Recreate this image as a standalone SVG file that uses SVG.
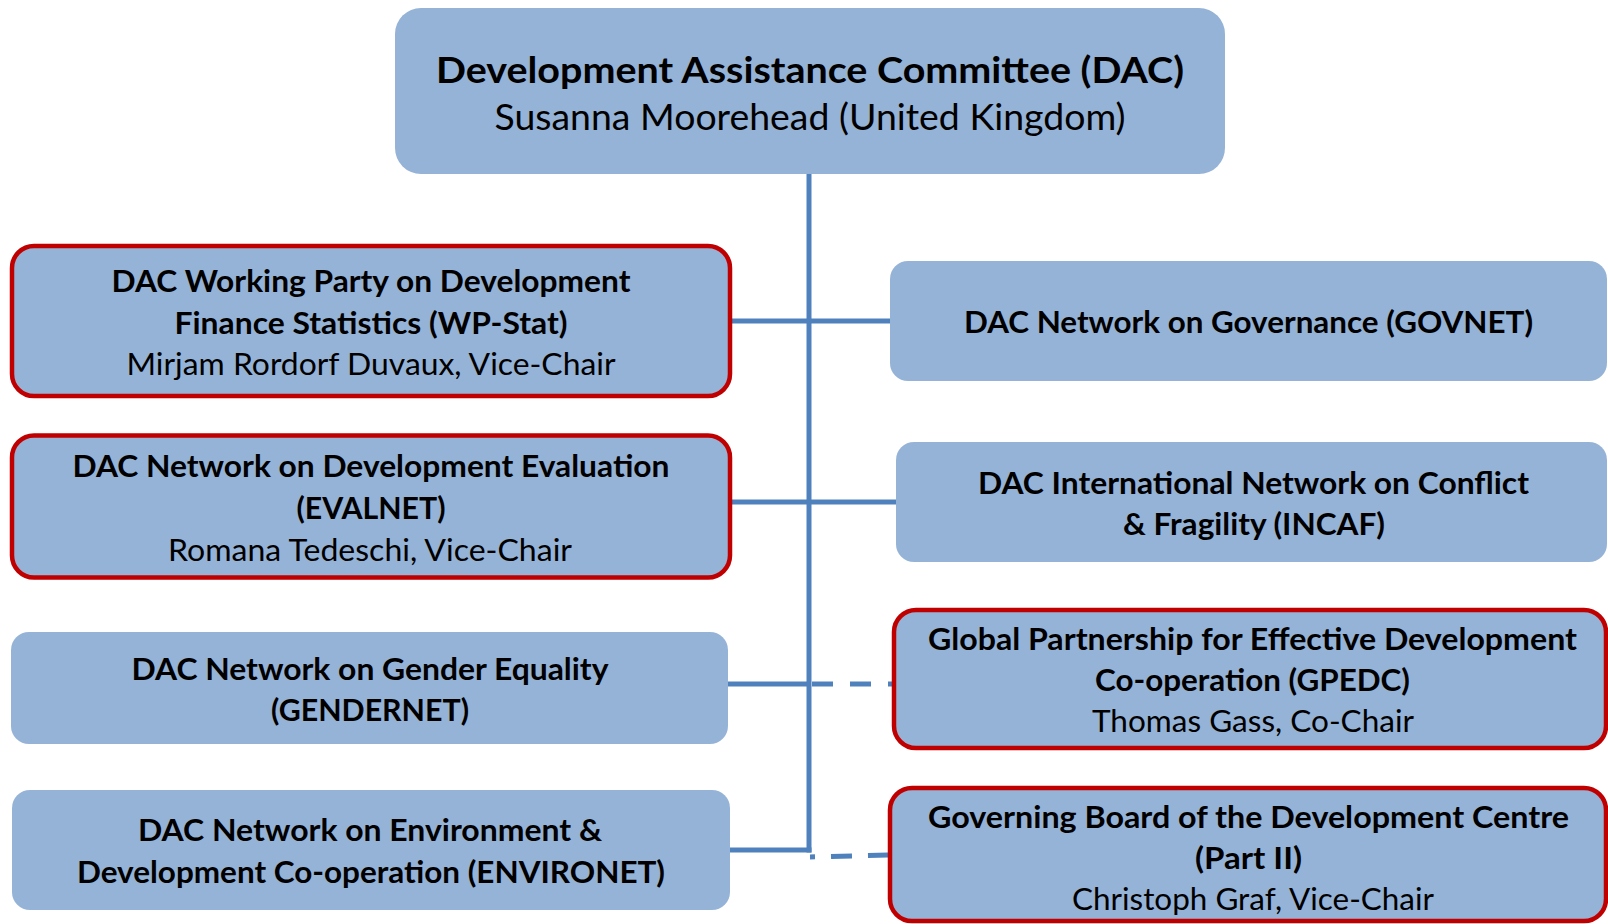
<svg xmlns="http://www.w3.org/2000/svg" width="1608" height="924" viewBox="0 0 1608 924">
  <style>
    .box { fill: #95B3D7; }
    .red { stroke: #C00000; stroke-width: 4.5; }
    .t { font-family: Lato, "Open Sans", "Liberation Sans", sans-serif; fill: #000; text-anchor: middle; }
    .b { font-weight: bold; font-size: 30px; }
    .r { font-weight: normal; font-size: 30px; }
    .tb { font-weight: bold; font-size: 36px; }
    .tr { font-weight: normal; font-size: 36px; }
    .ln { stroke: #4F81BD; stroke-width: 5; fill: none; }
    .dash { stroke-dasharray: 21 17; }
  </style>
  <rect width="1608" height="924" fill="#ffffff"/>

  <g id="connectors">
    <line class="ln" x1="809" y1="174" x2="809" y2="852.5"/>
    <line class="ln" x1="730" y1="321" x2="891" y2="321"/>
    <line class="ln" x1="730" y1="502" x2="897" y2="502"/>
    <line class="ln" x1="727" y1="684" x2="809" y2="684"/>
    <line class="ln dash" x1="812" y1="684" x2="893" y2="684"/>
    <line class="ln" x1="728" y1="850" x2="811.5" y2="850"/>
    <line class="ln" style="stroke-dasharray:21 16;stroke-dashoffset:16" x1="810" y1="857" x2="888" y2="855"/>
  </g>

  <g id="dac">
    <rect class="box" x="395" y="8" width="830" height="166" rx="26"/>
    <text class="t tb" x="810" y="83" textLength="748" lengthAdjust="spacingAndGlyphs">Development Assistance Committee (DAC)</text>
    <text class="t tr" x="810" y="130" textLength="631" lengthAdjust="spacingAndGlyphs">Susanna Moorehead (United Kingdom)</text>
  </g>

  <g id="wpstat">
    <rect class="box red" x="12" y="246" width="718" height="150" rx="22"/>
    <text class="t b" x="371" y="292" textLength="519" lengthAdjust="spacingAndGlyphs">DAC Working Party on Development</text>
    <text class="t b" x="371" y="334" textLength="393" lengthAdjust="spacingAndGlyphs">Finance Statistics (WP-Stat)</text>
    <text class="t r" x="371" y="375" textLength="489" lengthAdjust="spacingAndGlyphs">Mirjam Rordorf Duvaux, Vice-Chair</text>
  </g>

  <g id="evalnet">
    <rect class="box red" x="12" y="435.5" width="718" height="142" rx="22"/>
    <text class="t b" x="371" y="477" textLength="597" lengthAdjust="spacingAndGlyphs">DAC Network on Development Evaluation</text>
    <text class="t b" x="371" y="519" textLength="149" lengthAdjust="spacingAndGlyphs">(EVALNET)</text>
    <text class="t r" x="370" y="561" textLength="404" lengthAdjust="spacingAndGlyphs">Romana Tedeschi, Vice-Chair</text>
  </g>

  <g id="gendernet">
    <rect class="box" x="11" y="632" width="717" height="112" rx="18"/>
    <text class="t b" x="370" y="680" textLength="477" lengthAdjust="spacingAndGlyphs">DAC Network on Gender Equality</text>
    <text class="t b" x="370" y="721" textLength="198" lengthAdjust="spacingAndGlyphs">(GENDERNET)</text>
  </g>

  <g id="environet">
    <rect class="box" x="12" y="790" width="718" height="120" rx="18"/>
    <text class="t b" x="370" y="841" textLength="464" lengthAdjust="spacingAndGlyphs">DAC Network on Environment &amp;</text>
    <text class="t b" x="371" y="883" textLength="588" lengthAdjust="spacingAndGlyphs">Development Co-operation (ENVIRONET)</text>
  </g>

  <g id="govnet">
    <rect class="box" x="890" y="261" width="717" height="120" rx="18"/>
    <text class="t b" x="1248.5" y="333" textLength="569" lengthAdjust="spacingAndGlyphs">DAC Network on Governance (GOVNET)</text>
  </g>

  <g id="incaf">
    <rect class="box" x="896" y="442" width="711" height="120" rx="18"/>
    <text class="t b" x="1253.5" y="494" textLength="551" lengthAdjust="spacingAndGlyphs">DAC International Network on Conflict</text>
    <text class="t b" x="1254" y="535" textLength="262" lengthAdjust="spacingAndGlyphs">&amp; Fragility (INCAF)</text>
  </g>

  <g id="gpedc">
    <rect class="box red" x="894" y="610" width="712" height="138" rx="22"/>
    <text class="t b" x="1252.5" y="650" textLength="649" lengthAdjust="spacingAndGlyphs">Global Partnership for Effective Development</text>
    <text class="t b" x="1252.5" y="691" textLength="315" lengthAdjust="spacingAndGlyphs">Co-operation (GPEDC)</text>
    <text class="t r" x="1253" y="732" textLength="322" lengthAdjust="spacingAndGlyphs">Thomas Gass, Co-Chair</text>
  </g>

  <g id="devcentre">
    <rect class="box red" x="890" y="788" width="716" height="133" rx="22"/>
    <text class="t b" x="1248.5" y="828" textLength="641" lengthAdjust="spacingAndGlyphs">Governing Board of the Development Centre</text>
    <text class="t b" x="1248.5" y="869" textLength="107" lengthAdjust="spacingAndGlyphs">(Part II)</text>
    <text class="t r" x="1253" y="910" textLength="362" lengthAdjust="spacingAndGlyphs">Christoph Graf, Vice-Chair</text>
  </g>
</svg>
